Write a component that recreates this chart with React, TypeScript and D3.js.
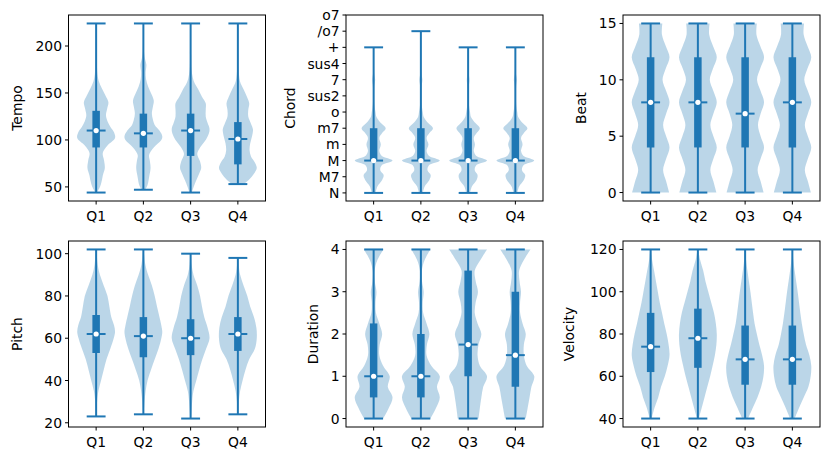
import * as d3 from "d3";

const quarters = ["Q1", "Q2", "Q3", "Q4"];

// stats per quarter: [min, q1, median, q3, max]
const tempoStats = [
  [44, 92, 110, 131, 224],
  [47, 92, 107, 128, 224],
  [44, 83, 110, 128, 224],
  [53, 74, 101, 119, 224],
];
// violin outline: [value, relative half width]
const tempoShapes = [
  [[44, 0.04], [50, 0.2], [55, 0.28], [62, 0.35], [70, 0.46], [78, 0.42], [86, 0.35], [94, 0.6], [102, 1.0], [108, 0.95], [114, 0.75], [120, 0.6], [126, 0.52], [133, 0.58], [140, 0.65], [147, 0.5], [155, 0.3], [162, 0.15], [170, 0.07], [185, 0.04], [200, 0.03], [224, 0.02]],
  [[47, 0.1], [52, 0.22], [60, 0.3], [70, 0.38], [78, 0.34], [84, 0.3], [92, 0.55], [100, 0.95], [104, 1.0], [110, 0.85], [116, 0.6], [122, 0.5], [128, 0.45], [135, 0.5], [142, 0.55], [150, 0.4], [157, 0.25], [165, 0.14], [172, 0.12], [180, 0.16], [187, 0.08], [195, 0.03], [224, 0.02]],
  [[44, 0.06], [50, 0.16], [57, 0.3], [64, 0.45], [70, 0.56], [77, 0.5], [85, 0.35], [92, 0.5], [100, 0.8], [107, 0.97], [112, 1.0], [118, 0.9], [125, 0.8], [132, 0.8], [139, 0.8], [146, 0.6], [154, 0.4], [160, 0.22], [166, 0.12], [175, 0.05], [190, 0.03], [224, 0.02]],
  [[53, 0.3], [58, 0.6], [64, 0.85], [70, 1.0], [76, 0.9], [82, 0.7], [89, 0.62], [96, 0.65], [104, 0.75], [111, 0.8], [118, 0.68], [125, 0.55], [132, 0.55], [139, 0.6], [146, 0.48], [154, 0.3], [160, 0.15], [166, 0.08], [175, 0.04], [190, 0.03], [224, 0.02]],
];
const tempoTicks = [50, 100, 150, 200];

const chordNames = ["N", "M7", "M", "m", "m7", "o", "sus2", "7", "sus4", "+", "/o7", "o7"];
const chordStats = [
  [0, 2, 2, 4, 9],
  [0, 2, 2, 4, 10],
  [0, 2, 2, 4, 9],
  [0, 2, 2, 4, 9],
];
const chordShapes = [
  [[0, 0.1], [0.4, 0.2], [0.8, 0.45], [1.1, 0.53], [1.4, 0.35], [1.7, 0.42], [2, 1.0], [2.3, 0.42], [2.6, 0.3], [3, 0.38], [3.4, 0.3], [3.7, 0.45], [4, 0.64], [4.3, 0.4], [4.7, 0.15], [5, 0.1], [5.5, 0.04], [6, 0.03], [6.6, 0.04], [7, 0.08], [7.4, 0.03], [8, 0.02], [9, 0.01]],
  [[0, 0.1], [0.4, 0.2], [0.8, 0.45], [1.1, 0.52], [1.4, 0.35], [1.7, 0.42], [2, 1.0], [2.3, 0.42], [2.6, 0.3], [3, 0.4], [3.4, 0.3], [3.7, 0.45], [4, 0.64], [4.3, 0.4], [4.7, 0.15], [5, 0.1], [5.5, 0.04], [6, 0.03], [6.6, 0.04], [7, 0.08], [7.4, 0.03], [8, 0.02], [9, 0.015], [10, 0.01]],
  [[0, 0.1], [0.4, 0.2], [0.8, 0.45], [1.1, 0.5], [1.4, 0.35], [1.7, 0.42], [2, 1.0], [2.3, 0.42], [2.6, 0.3], [3, 0.36], [3.4, 0.3], [3.7, 0.45], [4, 0.62], [4.3, 0.4], [4.7, 0.15], [5, 0.1], [5.5, 0.04], [6, 0.03], [6.6, 0.04], [7, 0.07], [7.4, 0.03], [8, 0.02], [9, 0.01]],
  [[0, 0.1], [0.4, 0.2], [0.8, 0.45], [1.1, 0.52], [1.4, 0.35], [1.7, 0.42], [2, 1.0], [2.3, 0.42], [2.6, 0.3], [3, 0.38], [3.4, 0.3], [3.7, 0.45], [4, 0.64], [4.3, 0.4], [4.7, 0.15], [5, 0.1], [5.5, 0.04], [6, 0.03], [6.6, 0.04], [7, 0.08], [7.4, 0.03], [8, 0.02], [9, 0.01]],
];

const beatStats = [
  [0, 4, 8, 12, 15],
  [0, 4, 8, 12, 15],
  [0, 4, 7, 12, 15],
  [0, 4, 8, 12, 15],
];
const beatShapes = [
  [[0, 0.98], [1, 0.82], [2, 0.66], [3, 0.82], [4, 1.0], [5, 0.82], [6, 0.66], [7, 0.82], [8, 1.0], [9, 0.82], [10, 0.63], [11, 0.8], [12, 1.0], [13, 0.8], [14, 0.6], [15, 0.62]],
  [[0, 0.98], [1, 0.82], [2, 0.66], [3, 0.82], [4, 1.0], [5, 0.82], [6, 0.66], [7, 0.82], [8, 1.0], [9, 0.82], [10, 0.63], [11, 0.8], [12, 1.0], [13, 0.8], [14, 0.6], [15, 0.62]],
  [[0, 0.98], [1, 0.82], [2, 0.66], [3, 0.82], [4, 1.0], [5, 0.82], [6, 0.68], [7, 0.82], [8, 1.0], [9, 0.82], [10, 0.63], [11, 0.8], [12, 1.0], [13, 0.8], [14, 0.6], [15, 0.62]],
  [[0, 0.98], [1, 0.82], [2, 0.66], [3, 0.82], [4, 1.0], [5, 0.82], [6, 0.66], [7, 0.82], [8, 1.0], [9, 0.82], [10, 0.63], [11, 0.8], [12, 1.0], [13, 0.8], [14, 0.6], [15, 0.62]],
];
const beatTicks = [0, 5, 10, 15];

const pitchStats = [
  [23, 53, 62, 71, 102],
  [24, 51, 61, 70, 102],
  [22, 52, 60, 69, 100],
  [24, 54, 62, 70, 98],
];
const pitchShapes = [
  [[23, 0.02], [30, 0.05], [35, 0.12], [40, 0.26], [45, 0.4], [50, 0.55], [55, 0.75], [60, 0.93], [63, 1.0], [66, 0.95], [70, 0.8], [75, 0.7], [80, 0.6], [85, 0.4], [90, 0.2], [95, 0.08], [102, 0.02]],
  [[24, 0.02], [30, 0.06], [35, 0.12], [40, 0.22], [45, 0.4], [50, 0.6], [55, 0.8], [60, 0.95], [63, 1.0], [66, 0.95], [70, 0.85], [75, 0.72], [80, 0.6], [85, 0.45], [90, 0.25], [95, 0.1], [102, 0.02]],
  [[22, 0.02], [30, 0.08], [35, 0.15], [40, 0.3], [45, 0.45], [50, 0.62], [55, 0.82], [60, 1.0], [65, 0.9], [70, 0.72], [75, 0.6], [80, 0.5], [85, 0.35], [90, 0.15], [95, 0.05], [100, 0.02]],
  [[24, 0.02], [30, 0.05], [35, 0.12], [40, 0.25], [45, 0.4], [50, 0.6], [55, 0.9], [60, 1.0], [65, 0.98], [70, 0.85], [75, 0.65], [80, 0.5], [85, 0.3], [90, 0.12], [95, 0.04], [98, 0.02]],
];
const pitchTicks = [20, 40, 60, 80, 100];

const durationStats = [
  [0, 0.5, 1, 2.25, 4],
  [0, 0.5, 1, 2, 4],
  [0, 1, 1.75, 3.5, 4],
  [0, 0.75, 1.5, 3, 4],
];
const durationShapes = [
  [[0, 0.5], [0.25, 0.8], [0.5, 1.0], [0.75, 0.75], [1, 0.85], [1.25, 0.5], [1.5, 0.3], [1.75, 0.32], [2, 0.45], [2.25, 0.3], [2.5, 0.12], [2.75, 0.1], [3, 0.15], [3.25, 0.06], [3.5, 0.05], [3.75, 0.2], [4, 0.52]],
  [[0, 0.5], [0.25, 0.8], [0.5, 1.0], [0.75, 0.85], [1, 1.0], [1.25, 0.55], [1.5, 0.3], [1.75, 0.32], [2, 0.45], [2.25, 0.3], [2.5, 0.12], [2.75, 0.1], [3, 0.15], [3.25, 0.06], [3.5, 0.05], [3.75, 0.2], [4, 0.5]],
  [[0, 0.55], [0.25, 0.62], [0.5, 0.7], [0.75, 0.8], [1, 1.0], [1.25, 0.62], [1.5, 0.5], [1.75, 0.55], [2, 0.7], [2.25, 0.5], [2.5, 0.35], [2.75, 0.4], [3, 0.52], [3.25, 0.4], [3.5, 0.35], [3.75, 0.65], [4, 1.0]],
  [[0, 0.55], [0.25, 0.65], [0.5, 0.75], [0.75, 0.85], [1, 1.0], [1.25, 0.6], [1.5, 0.45], [1.75, 0.45], [2, 0.55], [2.25, 0.38], [2.5, 0.25], [2.75, 0.25], [3, 0.3], [3.25, 0.22], [3.5, 0.2], [3.75, 0.45], [4, 0.8]],
];
const durationTicks = [0, 1, 2, 3, 4];

const velocityStats = [
  [40, 62, 74, 90, 120],
  [40, 64, 78, 92, 120],
  [40, 56, 68, 84, 120],
  [40, 56, 68, 84, 120],
];
const velocityShapes = [
  [[40, 0.05], [45, 0.2], [50, 0.4], [55, 0.55], [60, 0.75], [65, 0.9], [70, 1.0], [75, 0.95], [80, 0.85], [85, 0.72], [90, 0.6], [95, 0.48], [100, 0.38], [105, 0.28], [110, 0.18], [115, 0.08], [120, 0.02]],
  [[40, 0.05], [45, 0.2], [50, 0.35], [55, 0.5], [60, 0.65], [65, 0.78], [70, 0.9], [75, 0.98], [80, 1.0], [85, 0.95], [90, 0.85], [95, 0.7], [100, 0.55], [105, 0.4], [110, 0.28], [115, 0.12], [120, 0.02]],
  [[40, 0.15], [45, 0.4], [50, 0.65], [55, 0.85], [60, 0.97], [65, 1.0], [70, 0.9], [75, 0.75], [80, 0.62], [85, 0.5], [90, 0.42], [95, 0.35], [100, 0.28], [105, 0.2], [110, 0.12], [115, 0.05], [120, 0.02]],
  [[40, 0.12], [45, 0.35], [50, 0.6], [55, 0.85], [60, 0.97], [65, 1.0], [70, 0.9], [75, 0.72], [80, 0.6], [85, 0.5], [90, 0.42], [95, 0.35], [100, 0.28], [105, 0.2], [110, 0.12], [115, 0.05], [120, 0.02]],
];
const velocityTicks = [40, 60, 80, 100, 120];

const C0 = "#1f77b4";
const FONT = "DejaVu Sans, sans-serif";
const FS = 13.9;

type PanelProps = {
  left: number;
  top: number;
  label: string;
  labelX: number;
  yDomain: [number, number];
  ticks: number[];
  tickText?: string[];
  stats: number[][];
  shapes: number[][][];
};

const W = 197;
const H = 186;

function Panel({ left, top, label, labelX, yDomain, ticks, tickText, stats, shapes }: PanelProps) {
  const x = d3.scaleLinear().domain([0.415, 4.585]).range([left, left + W]);
  const y = d3.scaleLinear().domain(yDomain).range([top + H, top]);
  const half = x(0.4) - x(0);
  const cap = x(0.2) - x(0);

  return (
    <g>
      {shapes.map((shape, i) => {
        const cx = x(i + 1);
        const area = d3
          .area<number[]>()
          .y((d) => y(d[0]))
          .x0((d) => cx - d[1] * half)
          .x1((d) => cx + d[1] * half)
          .curve(d3.curveCatmullRom.alpha(0.5));
        return <path key={"v" + i} d={area(shape) || ""} fill={C0} fillOpacity={0.3} />;
      })}
      {stats.map((s, i) => {
        const cx = x(i + 1);
        const [mn, q1, med, q3, mx] = s;
        return (
          <g key={"s" + i} stroke={C0}>
            <line x1={cx} x2={cx} y1={y(mn)} y2={y(mx)} strokeWidth={2} />
            <line x1={cx - cap} x2={cx + cap} y1={y(mn)} y2={y(mn)} strokeWidth={2} />
            <line x1={cx - cap} x2={cx + cap} y1={y(mx)} y2={y(mx)} strokeWidth={2} />
            <line x1={cx - cap} x2={cx + cap} y1={y(med)} y2={y(med)} strokeWidth={2} />
            <line x1={cx} x2={cx} y1={y(q1)} y2={y(q3)} strokeWidth={7.5} />
            <circle cx={cx} cy={y(med)} r={2.6} fill="white" stroke="none" />
          </g>
        );
      })}
      <rect x={left} y={top} width={W} height={H} fill="none" stroke="#000" strokeWidth={1} />
      {ticks.map((t, i) => (
        <g key={"yt" + i}>
          <line x1={left - 3.5} x2={left} y1={y(t)} y2={y(t)} stroke="#000" strokeWidth={1} />
          <text x={left - 6.5} y={y(t)} dy="0.36em" textAnchor="end" fontSize={FS} fontFamily={FONT} fill="#000">
            {tickText ? tickText[i] : t}
          </text>
        </g>
      ))}
      {quarters.map((q, i) => (
        <g key={"xt" + i}>
          <line x1={x(i + 1)} x2={x(i + 1)} y1={top + H} y2={top + H + 3.5} stroke="#000" strokeWidth={1} />
          <text x={x(i + 1)} y={top + H + 20} textAnchor="middle" fontSize={FS} fontFamily={FONT} fill="#000">
            {q}
          </text>
        </g>
      ))}
      <text
        transform={`translate(${labelX},${top + H / 2}) rotate(-90)`}
        textAnchor="middle"
        fontSize={FS}
        fontFamily={FONT}
        fill="#000"
      >
        {label}
      </text>
    </g>
  );
}

export default function App() {
  const chordTicks = chordNames.map((_, i) => i);
  return (
    <svg width={831} height={462} style={{ position: "absolute", left: 0, top: 0, background: "#fff" }}>
      <Panel left={68.5} top={15} label="Tempo" labelX={21.7} yDomain={[35, 233]} ticks={tempoTicks} stats={tempoStats} shapes={tempoShapes} />
      <Panel left={346} top={15} label="Chord" labelX={295} yDomain={[-0.5, 11]} ticks={chordTicks} tickText={chordNames} stats={chordStats} shapes={chordShapes} />
      <Panel left={623} top={15} label="Beat" labelX={585.5} yDomain={[-0.75, 15.75]} ticks={beatTicks} stats={beatStats} shapes={beatShapes} />
      <Panel left={68.5} top={241} label="Pitch" labelX={21.7} yDomain={[18, 106]} ticks={pitchTicks} stats={pitchStats} shapes={pitchShapes} />
      <Panel left={346} top={241} label="Duration" labelX={318} yDomain={[-0.2, 4.2]} ticks={durationTicks} stats={durationStats} shapes={durationShapes} />
      <Panel left={623} top={241} label="Velocity" labelX={574.4} yDomain={[36, 124]} ticks={velocityTicks} stats={velocityStats} shapes={velocityShapes} />
    </svg>
  );
}
